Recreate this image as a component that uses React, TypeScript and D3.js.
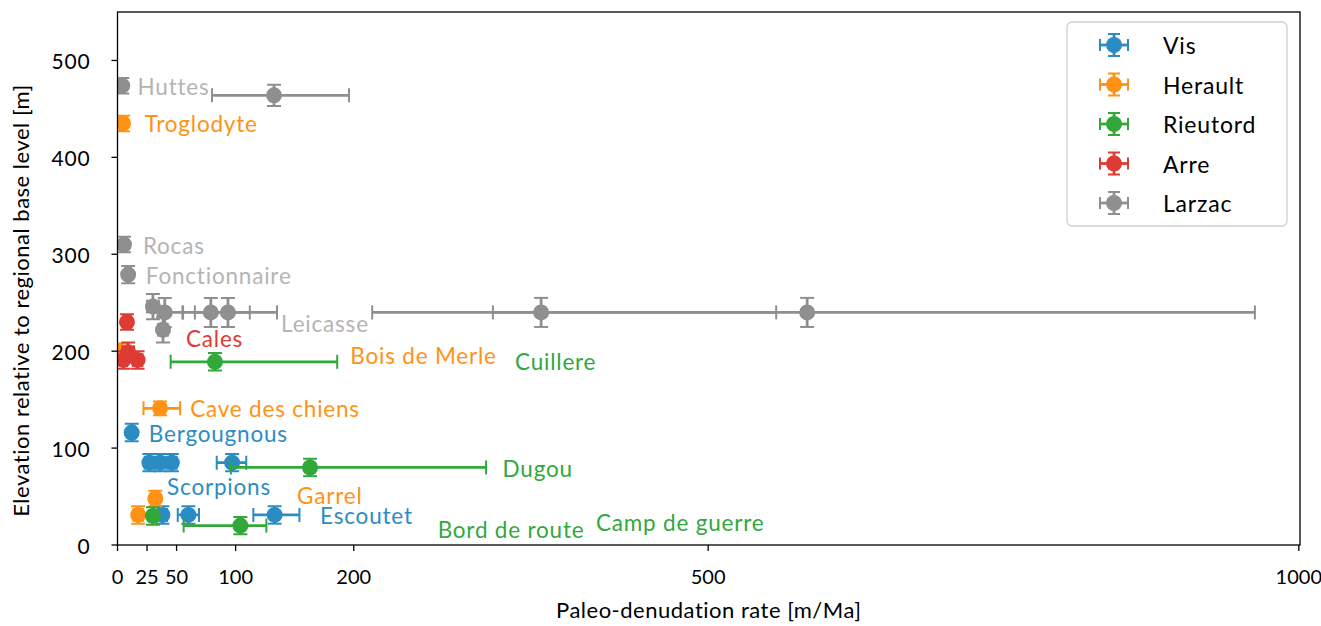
import * as d3 from 'd3';

// series meta
const seriesNames = ['Vis', 'Herault', 'Rieutord', 'Arre', 'Larzac'];

// rate [m/Ma], elevation [m], x error low/high, y error
const visData = [
  { rate: 12, elev: 116, lo: 3, hi: 3, ye: 9 },
  { rate: 27, elev: 85, lo: 4, hi: 4, ye: 9 },
  { rate: 36, elev: 85, lo: 4, hi: 4, ye: 9 },
  { rate: 46, elev: 85, lo: 4, hi: 4, ye: 9 },
  { rate: 97, elev: 85, lo: 13, hi: 12, ye: 9 },
  { rate: 38, elev: 31, lo: 4, hi: 4, ye: 9 },
  { rate: 60, elev: 31, lo: 9, hi: 9, ye: 9 },
  { rate: 133, elev: 31, lo: 18, hi: 21, ye: 9 },
];
const heraultData = [
  { rate: 4.7, elev: 435, lo: 2, hi: 2, ye: 8 },
  { rate: 2, elev: 200, lo: 2, hi: 2, ye: 8 },
  { rate: 36, elev: 141, lo: 14, hi: 17, ye: 7 },
  { rate: 32, elev: 48, lo: 3, hi: 3, ye: 8 },
  { rate: 17.5, elev: 31, lo: 4, hi: 4, ye: 9 },
];
const rieutordData = [
  { rate: 82.5, elev: 189, lo: 37.5, hi: 103.5, ye: 9 },
  { rate: 163, elev: 80, lo: 67, hi: 149, ye: 9 },
  { rate: 30, elev: 30, lo: 3, hi: 3, ye: 9 },
  { rate: 104, elev: 20, lo: 48, hi: 22, ye: 9 },
];
const arreData = [
  { rate: 8, elev: 230, lo: 3, hi: 3, ye: 8 },
  { rate: 9, elev: 199, lo: 5, hi: 5, ye: 10 },
  { rate: 5, elev: 191, lo: 3, hi: 3, ye: 9 },
  { rate: 17, elev: 191, lo: 4, hi: 4, ye: 9 },
];
const larzacData = [
  { rate: 4, elev: 474, lo: 2, hi: 2, ye: 8 },
  { rate: 132.5, elev: 464, lo: 52.5, hi: 63.5, ye: 11 },
  { rate: 5.5, elev: 310, lo: 2, hi: 2, ye: 8 },
  { rate: 9, elev: 279, lo: 2, hi: 2, ye: 9 },
  { rate: 30, elev: 246, lo: 5, hi: 5, ye: 13 },
  { rate: 40, elev: 240, lo: 6, hi: 15, ye: 15 },
  { rate: 79, elev: 240, lo: 23.5, hi: 33, ye: 15 },
  { rate: 93.5, elev: 240, lo: 28, hi: 41.5, ye: 15 },
  { rate: 38.5, elev: 222, lo: 4, hi: 4, ye: 13 },
  { rate: 358.6, elev: 240, lo: 143, hi: 199, ye: 15 },
  { rate: 583.8, elev: 240, lo: 266, hi: 379, ye: 15 },
];

// site labels in data coords (s = series index)
const siteLabels = [
  { text: 'Huttes', s: 4, rate: 17, elev: 473 },
  { text: 'Troglodyte', s: 1, rate: 23, elev: 435 },
  { text: 'Rocas', s: 4, rate: 21.5, elev: 309 },
  { text: 'Fonctionnaire', s: 4, rate: 24, elev: 278 },
  { text: 'Leicasse', s: 4, rate: 138.5, elev: 229 },
  { text: 'Cales', s: 3, rate: 58, elev: 213 },
  { text: 'Bois de Merle', s: 1, rate: 197, elev: 196 },
  { text: 'Cuillere', s: 2, rate: 336.5, elev: 189 },
  { text: 'Cave des chiens', s: 1, rate: 61.5, elev: 141 },
  { text: 'Bergougnous', s: 0, rate: 26.5, elev: 115.5 },
  { text: 'Dugou', s: 2, rate: 326, elev: 79 },
  { text: 'Scorpions', s: 0, rate: 42, elev: 60 },
  { text: 'Garrel', s: 1, rate: 152, elev: 51.5 },
  { text: 'Escoutet', s: 0, rate: 171.5, elev: 30 },
  { text: 'Bord de route', s: 2, rate: 271, elev: 15.5 },
  { text: 'Camp de guerre', s: 2, rate: 405, elev: 23.5 },
];

const xTicks = [0, 25, 50, 100, 200, 500, 1000];
const yTicks = [0, 100, 200, 300, 400, 500];

const colors = ['#2b8cc4', '#ff9214', '#33a83a', '#de3b35', '#8f8f8f'];
const labelColors = ['#2b8cc4', '#ff9214', '#33a83a', '#de3b35', '#b4b4b4'];

const FONT = 'Lato, "Open Sans", sans-serif';

export default function App() {
  const width = 1321;
  const height = 626;
  const left = 117.5, right = 1300, top = 12, bottom = 545;

  const x = d3.scaleLinear().domain([0, 1001]).range([left, right]);
  const y = d3.scaleLinear().domain([0, 550]).range([bottom, top]);

  const allSeries = [visData, heraultData, rieutordData, arreData, larzacData];
  const cap = 7;

  return (
    <svg width={width} height={height} style={{ position: 'absolute', left: 0, top: 0, background: '#fff' }}
      fontFamily={FONT}>
      <defs>
        <clipPath id="plotclip">
          <rect x={left} y={top} width={right - left} height={bottom - top} />
        </clipPath>
      </defs>

      <g clipPath="url(#plotclip)">
        {allSeries.map((data, si) => (
          <g key={si} stroke={colors[si]} fill={colors[si]}>
            {data.map((d, i) => {
              const cx = x(d.rate), cy = y(d.elev);
              const x0 = x(d.rate - d.lo), x1 = x(d.rate + d.hi);
              const y0 = y(d.elev - d.ye), y1 = y(d.elev + d.ye);
              return (
                <g key={i}>
                  <line x1={x0} x2={x1} y1={cy} y2={cy} strokeWidth={2.8} />
                  <line x1={x0} x2={x0} y1={cy - cap} y2={cy + cap} strokeWidth={2} />
                  <line x1={x1} x2={x1} y1={cy - cap} y2={cy + cap} strokeWidth={2} />
                  <line x1={cx} x2={cx} y1={y0} y2={y1} strokeWidth={2.8} />
                  <line x1={cx - cap} x2={cx + cap} y1={y0} y2={y0} strokeWidth={2} />
                  <line x1={cx - cap} x2={cx + cap} y1={y1} y2={y1} strokeWidth={2} />
                </g>
              );
            })}
            {data.map((d, i) => (
              <circle key={'m' + i} cx={x(d.rate)} cy={y(d.elev)} r={8} stroke="none" />
            ))}
          </g>
        ))}

        {siteLabels.map((l, i) => (
          <text key={i} x={x(l.rate)} y={y(l.elev)} dominantBaseline="central"
            fontSize={22.5} letterSpacing={0.8} fill={labelColors[l.s]}>{l.text}</text>
        ))}
      </g>

      {/* frame */}
      <rect x={left} y={top} width={right - left} height={bottom - top} fill="none" stroke="#000" strokeWidth={1.3} />

      {/* x axis */}
      {xTicks.map(t => (
        <g key={t}>
          <line x1={x(t)} x2={x(t)} y1={bottom} y2={bottom + 6} stroke="#000" strokeWidth={1.3} />
          <text x={x(t)} y={bottom + 39} textAnchor="middle" fontSize={20}>{t}</text>
        </g>
      ))}
      <text x={(left + right) / 2} y={618} textAnchor="middle" fontSize={22} letterSpacing={0.5}>Paleo-denudation rate [m/Ma]</text>

      {/* y axis */}
      {yTicks.map(t => (
        <g key={t}>
          <line x1={left - 6} x2={left} y1={y(t)} y2={y(t)} stroke="#000" strokeWidth={1.3} />
          <text x={left - 27} y={y(t)} textAnchor="end" dominantBaseline="central" fontSize={21} letterSpacing={0.8}>{t}</text>
        </g>
      ))}
      <text transform={`translate(29, ${(top + bottom) / 2 + 22}) rotate(-90)`} textAnchor="middle" fontSize={22} letterSpacing={0.5}>
        Elevation relative to regional base level [m]
      </text>

      {/* legend */}
      <rect x={1067} y={22} width={220} height={204} rx={5} fill="#fff" fillOpacity={0.8} stroke="#d0d0d0" strokeWidth={1.3} />
      {seriesNames.map((n, i) => {
        const ly = 45 + i * 39.5;
        const lx = 1114;
        return (
          <g key={n} stroke={colors[i]} fill={colors[i]}>
            <line x1={lx - 14} x2={lx + 14} y1={ly} y2={ly} strokeWidth={2.8} />
            <line x1={lx - 14} x2={lx - 14} y1={ly - 6} y2={ly + 6} strokeWidth={2} />
            <line x1={lx + 14} x2={lx + 14} y1={ly - 6} y2={ly + 6} strokeWidth={2} />
            <line x1={lx} x2={lx} y1={ly - 11} y2={ly + 11} strokeWidth={2.8} />
            <line x1={lx - 6} x2={lx + 6} y1={ly - 11} y2={ly - 11} strokeWidth={2} />
            <line x1={lx - 6} x2={lx + 6} y1={ly + 11} y2={ly + 11} strokeWidth={2} />
            <circle cx={lx} cy={ly} r={8} stroke="none" />
            <text x={1163} y={ly} dominantBaseline="central" fontSize={23} letterSpacing={0.8} fill="#000" stroke="none">{n}</text>
          </g>
        );
      })}
    </svg>
  );
}
